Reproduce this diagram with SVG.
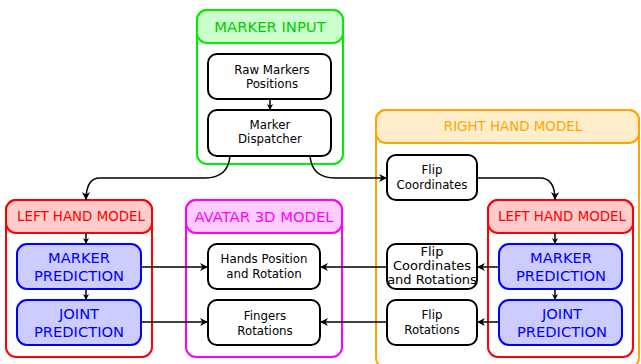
<svg xmlns="http://www.w3.org/2000/svg" width="641" height="364" viewBox="0 0 641 364">
<defs>
<marker id="ah" viewBox="0 0 10 10" refX="10" refY="5" markerWidth="8" markerHeight="8" markerUnits="userSpaceOnUse" orient="auto">
<path d="M0,0 L10,5 L0,10 L3,5 Z" fill="#000"/>
</marker>
<marker id="ahs" viewBox="0 0 10 10" refX="10" refY="5" markerWidth="6" markerHeight="6" markerUnits="userSpaceOnUse" orient="auto">
<path d="M0,0 L10,5 L0,10 L3,5 Z" fill="#000"/>
</marker>
</defs>
<style>
text{font-family:"DejaVu Sans",sans-serif;text-anchor:middle}
.box{fill:#fff;stroke:#000;stroke-width:2}
.blue{fill:#ccccff;stroke:#0000ff;stroke-width:2}
.bt{fill:#0000ff;font-size:14.7px}
.t{font-size:11.8px;fill:#000}
.tl{font-size:13px;fill:#000}
.h{font-size:14.8px}
.hs{font-size:13.4px}
.c{fill:none;stroke:#000;stroke-width:1.5;marker-end:url(#ah)}
.cs{fill:none;stroke:#000;stroke-width:1.5;marker-end:url(#ahs)}
</style>
<g id="marker-input">
<rect x="197" y="10" width="146" height="154" rx="10" fill="#fff" stroke="#00ee00" stroke-width="2"/>
<rect x="197" y="10" width="146" height="33" rx="10" fill="#ccffcc" stroke="#00ee00" stroke-width="2"/>
<text class="h" x="270" y="32" fill="#00cc00">MARKER INPUT</text>
</g>
<g id="raw-markers">
<rect class="box" x="208" y="54" width="123" height="45" rx="9"/>
<text class="t" x="272" y="74">Raw Markers</text>
<text class="t" x="272" y="88">Positions</text>
</g>
<g id="dispatcher">
<rect class="box" x="208" y="110" width="123" height="46" rx="9"/>
<text class="t" x="270" y="129">Marker</text>
<text class="t" x="270" y="143">Dispatcher</text>
</g>
<g id="left-hand-model">
<rect x="6" y="200" width="146" height="157" rx="10" fill="#fff" stroke="#ff0000" stroke-width="2"/>
<rect x="6" y="200" width="146" height="33" rx="10" fill="#ffcccc" stroke="#ff0000" stroke-width="2"/>
<text class="hs" x="81" y="221" fill="#ff0000">LEFT HAND MODEL</text>
</g>
<g id="lhm-marker-prediction">
<rect class="blue" x="17" y="244" width="124" height="45" rx="10"/>
<text class="bt" x="79" y="263">MARKER</text>
<text class="bt" x="79" y="281">PREDICTION</text>
</g>
<g id="lhm-joint-prediction">
<rect class="blue" x="17" y="300" width="124" height="45" rx="10"/>
<text class="bt" x="79" y="319">JOINT</text>
<text class="bt" x="79" y="337">PREDICTION</text>
</g>
<g id="avatar-3d-model">
<rect x="186" y="200" width="156" height="157" rx="10" fill="#fff" stroke="#ff00ff" stroke-width="2"/>
<rect x="186" y="200" width="156" height="33" rx="10" fill="#ffccff" stroke="#ff00ff" stroke-width="2"/>
<text class="h" x="264" y="222" fill="#ff00ff">AVATAR 3D MODEL</text>
</g>
<g id="hands-position">
<rect class="box" x="208" y="244" width="112" height="45" rx="9"/>
<text class="t" x="264" y="263">Hands Position</text>
<text class="t" x="264" y="278">and Rotation</text>
</g>
<g id="fingers-rotations">
<rect class="box" x="208" y="300" width="112" height="45" rx="9"/>
<text class="t" x="265" y="320">Fingers</text>
<text class="t" x="265" y="335">Rotations</text>
</g>
<g id="right-hand-model">
<rect x="376" y="110" width="263" height="258" rx="10" fill="#fff" stroke="#ffa500" stroke-width="2"/>
<rect x="376" y="110" width="263" height="33" rx="10" fill="#ffeecc" stroke="#ffa500" stroke-width="2"/>
<text class="hs" x="513" y="131" fill="#ffa500">RIGHT HAND MODEL</text>
</g>
<g id="flip-coordinates">
<rect class="box" x="387" y="155" width="90" height="45" rx="9"/>
<text class="t" x="432" y="174">Flip</text>
<text class="t" x="432" y="189">Coordinates</text>
</g>
<g id="flip-coord-rot">
<rect class="box" x="387" y="244" width="90" height="45" rx="9"/>
<text class="tl" x="432" y="256">Flip</text>
<text class="tl" x="432" y="270">Coordinates</text>
<text class="tl" x="432" y="284">and Rotations</text>
</g>
<g id="flip-rotations">
<rect class="box" x="387" y="300" width="90" height="45" rx="9"/>
<text class="t" x="432" y="319">Flip</text>
<text class="t" x="432" y="334">Rotations</text>
</g>
<g id="inner-left-hand-model">
<rect x="488" y="200" width="145" height="157" rx="10" fill="#fff" stroke="#ff0000" stroke-width="2"/>
<rect x="488" y="200" width="145" height="33" rx="10" fill="#ffcccc" stroke="#ff0000" stroke-width="2"/>
<text class="hs" x="562" y="221" fill="#ff0000">LEFT HAND MODEL</text>
</g>
<g id="rhm-marker-prediction">
<rect class="blue" x="499" y="244" width="123" height="45" rx="10"/>
<text class="bt" x="561" y="263">MARKER</text>
<text class="bt" x="561" y="281">PREDICTION</text>
</g>
<g id="rhm-joint-prediction">
<rect class="blue" x="499" y="300" width="123" height="45" rx="10"/>
<text class="bt" x="562" y="319">JOINT</text>
<text class="bt" x="562" y="337">PREDICTION</text>
</g>
<g id="connectors">
<path class="cs" d="M270,99 L270,110"/>
<path class="c" d="M230,156 Q228,178 205,178 L100,178 Q86,178 86,200"/>
<path class="c" d="M310,156 Q312,178 335,178 L387,178"/>
<path class="c" d="M477,178 L540,178 Q555,178 555,200"/>
<path class="cs" d="M86,233 L86,244"/>
<path class="cs" d="M86,289 L86,300"/>
<path class="cs" d="M555,233 L555,244"/>
<path class="cs" d="M555,289 L555,300"/>
<path class="c" d="M141,267 L208,267"/>
<path class="c" d="M141,322 L208,322"/>
<path class="c" d="M499,267 L477,267"/>
<path class="c" d="M499,322 L477,322"/>
<path class="c" d="M387,267 L320,267"/>
<path class="c" d="M387,322 L320,322"/>
</g>
</svg>
